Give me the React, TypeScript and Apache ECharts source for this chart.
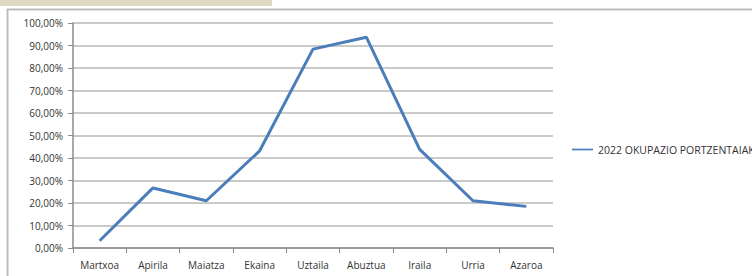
import React, { useEffect, useRef } from "react";
import * as echarts from "echarts";

const categories = ["Martxoa", "Apirila", "Maiatza", "Ekaina", "Uztaila", "Abuztua", "Iraila", "Urria", "Azaroa"];
const seriesName = "2022 OKUPAZIO PORTZENTAIAK";
const occupancy = [0.032, 0.267, 0.21, 0.432, 0.884, 0.937, 0.438, 0.21, 0.185];
const yTicks = { min: 0, max: 1, interval: 0.1 };

const fmtPct = (v: number) => (v * 100).toFixed(2).replace(".", ",") + "%";

export default function App() {
  const ref = useRef<HTMLDivElement>(null);
  useEffect(() => {
    if (!ref.current) return;
    const chart = echarts.init(ref.current, null, { renderer: "svg" });
    const font = "'Open Sans', 'Noto Sans', sans-serif";
    chart.setOption({
      animation: false,
      backgroundColor: "#ffffff",
      textStyle: { fontFamily: font },
      grid: { left: 73, top: 23, width: 480, height: 225, containLabel: false },
      legend: {
        left: 572,
        top: 144,
        padding: 0,
        itemWidth: 21,
        itemHeight: 12,
        itemGap: 5,
        textStyle: { fontSize: 10.5, color: "#333333", fontFamily: font },
        data: [{ name: seriesName, icon: "path://M0,5L24,5L24,7L0,7Z" }],
      },
      xAxis: {
        type: "category",
        data: categories,
        boundaryGap: true,
        axisLine: { lineStyle: { color: "#8c8c8c", width: 1.5 } },
        axisTick: { show: true, length: 5, lineStyle: { color: "#8c8c8c" } },
        axisLabel: { fontSize: 10, color: "#333333", margin: 12, interval: 0 },
        splitLine: { show: false },
      },
      yAxis: {
        type: "value",
        min: yTicks.min,
        max: yTicks.max,
        interval: yTicks.interval,
        axisLine: { show: true, lineStyle: { color: "#8c8c8c", width: 1.5 } },
        axisTick: { show: true, length: 5, lineStyle: { color: "#8c8c8c" } },
        axisLabel: { fontSize: 10, color: "#333333", margin: 10, formatter: fmtPct },
        splitLine: { show: true, lineStyle: { color: "#b8b8b8", width: 1.5 } },
      },
      series: [
        {
          name: seriesName,
          type: "line",
          data: occupancy,
          symbol: "none",
          lineStyle: { color: "#4a7ebb", width: 3 },
          itemStyle: { color: "#4a7ebb" },
        },
      ],
      graphic: [
        { type: "rect", shape: { x: 0, y: 0, width: 272, height: 6 }, style: { fill: "#e0d9c1" }, silent: true },
        { type: "line", shape: { x1: 7, y1: 9.5, x2: 752, y2: 9.5 }, style: { stroke: "#bdbdbd", lineWidth: 2 }, silent: true },
        { type: "line", shape: { x1: 7.5, y1: 9, x2: 7.5, y2: 276 }, style: { stroke: "#bdbdbd", lineWidth: 2 }, silent: true },
      ],
    });
    return () => chart.dispose();
  }, []);
  return (
    <div
      ref={ref}
      style={{ position: "fixed", left: 0, top: 0, width: 752, height: 276 }}
    />
  );
}
